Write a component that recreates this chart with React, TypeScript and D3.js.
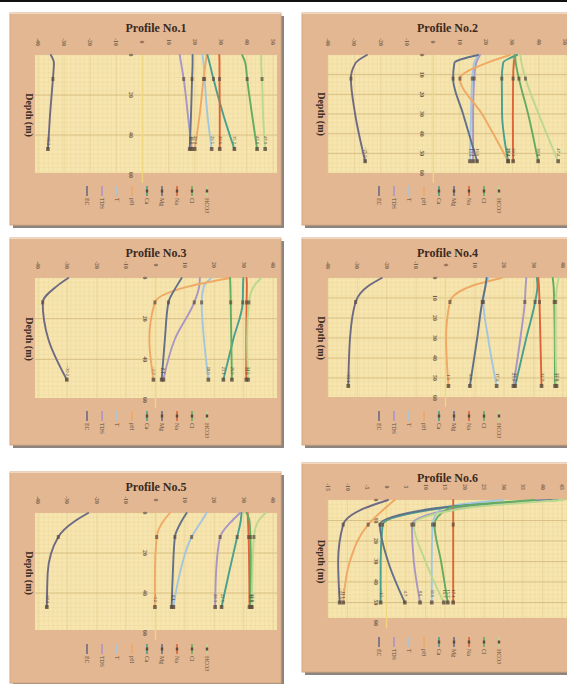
import React from "react";
import * as d3 from "d3";

const W = 567;
const H = 684;

// legend entries and colours (same for every profile)
const seriesNames = ["EC", "TDS", "T", "pH", "Ca", "Mg", "Na", "Cl", "HCO3"];
const seriesColors = ["#6e6a84", "#a996c4", "#a3c6df", "#f0a865", "#48a08e", "#62708a", "#de6438", "#62ad62", "#bad88f"];
const titles = ["Profile No.1", "Profile No.2", "Profile No.3", "Profile No.4", "Profile No.5", "Profile No.6"];

// top axis ticks
const ticksA = [-40, -30, -20, -10, 0, 10, 20, 30, 40, 50];
const ticksB = [-40, -30, -20, -10, 0, 10, 20, 30, 40];
const ticksC = [-15, -10, -5, 0, 5, 10, 15, 20, 25, 30, 35, 40, 45];

// depth ticks
const depthTicksA = [0, 20, 40, 60];
const depthTicksB = [0, 10, 20, 30, 40, 50, 60];

// sample depths (m)
const depths1 = [0, 4, 12, 30, 47];
const depths2 = [0, 4, 12, 30, 54];
const depths3 = [0, 4, 12, 30, 50];
const depths4 = [0, 4, 12, 30, 54];
const depths5 = [0, 4, 12, 30, 47];
const depths6 = [0, 4, 12, 30, 50];

// values per series (rows follow seriesNames)
const profile1 = [
  [-35.1, -33.9, -34.3, -35.4, -36.2],
  [14.3, 14.8, 15.8, 17.4, 18.9],
  [23.0, 23.4, 23.8, 24.9, 26.5],
  [24.6, 24.2, 23.4, 21.9, 20.0],
  [24.9, 25.7, 27.2, 31.0, 35.2],
  [19.2, 19.2, 19.0, 18.6, 18.1],
  [29.4, 29.5, 29.5, 29.6, 29.6],
  [38.2, 39.4, 40.1, 42.0, 43.9],
  [45.5, 45.5, 45.8, 46.2, 47.0],
];
const profile2 = [
  [-25.2, -29.5, -31.3, -29.7, -25.9],
  [17.7, 16.3, 15.5, 15.1, 15.1],
  [17.2, 15.5, 14.8, 14.3, 13.9],
  [29.1, 20.4, 10.1, 18.5, 28.4],
  [31.8, 26.5, 26.0, 26.1, 28.4],
  [17.0, 8.0, 7.5, 11.3, 16.6],
  [31.0, 30.6, 30.3, 30.2, 30.3],
  [31.0, 31.3, 32.5, 36.0, 39.8],
  [33.0, 33.5, 35.0, 40.0, 47.4],
];
const profile3 = [
  [-29.7, -33.6, -38.4, -36.5, -30.2],
  [15.1, 14.9, 13.2, 6.6, 2.7],
  [19.0, 16.5, 15.7, 16.5, 18.0],
  [25.4, 11.7, -0.2, -2.1, -0.7],
  [29.9, 29.8, 29.7, 26.5, 23.1],
  [8.9, 7.2, 4.4, 3.2, 2.1],
  [31.0, 31.1, 31.0, 30.9, 30.9],
  [25.4, 25.5, 25.6, 25.8, 26.0],
  [36.0, 33.5, 31.8, 31.2, 31.5],
];
const profile4 = [
  [-21.7, -26.3, -30.6, -32.5, -33.1],
  [27.5, 27.3, 27.0, 25.5, 23.1],
  [14.6, 13.6, 12.9, 14.5, 17.4],
  [19.1, 8.9, 1.5, 0.2, 1.0],
  [31.1, 31.3, 30.5, 27.5, 23.7],
  [14.0, 13.6, 12.5, 10.8, 8.3],
  [31.6, 31.8, 32.0, 32.3, 32.7],
  [36.5, 36.8, 37.0, 37.2, 37.3],
  [38.5, 38.0, 37.5, 37.5, 37.8],
];
const profile5 = [
  [-22.9, -27.4, -33.1, -36.7, -37.0],
  [28.8, 26.0, 22.0, 20.6, 20.3],
  [17.4, 15.7, 12.3, 8.3, 6.1],
  [4.9, 2.7, 0.4, -0.2, -0.2],
  [29.3, 29.0, 27.8, 25.0, 22.5],
  [10.6, 8.9, 6.6, 5.9, 5.5],
  [31.4, 31.5, 31.7, 31.9, 32.0],
  [31.0, 32.0, 32.3, 32.5, 32.5],
  [37.5, 35.0, 33.5, 33.0, 32.8],
];
const profile6 = [
  [0.4, -5.6, -11.1, -12.4, -12.0],
  [40.0, 18.0, 6.5, 7.0, 8.6],
  [30.0, 14.0, 11.8, 11.6, 11.6],
  [2.1, -0.4, -4.7, -9.4, -11.1],
  [44.0, 14.0, -1.0, -1.5, -1.5],
  [42.4, 12.5, -1.7, 0.4, 4.7],
  [17.1, 17.1, 17.1, 17.1, 17.1],
  [38.0, 16.0, 12.3, 14.0, 15.7],
  [45.5, 20.0, 7.0, 10.0, 14.7],
];

// panel placement on the page
const panels = [
  { frame: [10, 13, 271, 212], bg: [35, 277, 55, 173], xRange: [38, 273], yRange: [55, 175], ticks: ticksA, dTicks: depthTicksA, depths: depths1, values: profile1, legendY: 186 },
  { frame: [302, 13, 280, 212], bg: [328, 580, 55, 173], xRange: [328, 565], yRange: [55, 173], ticks: ticksA, dTicks: depthTicksB, depths: depths2, values: profile2, legendY: 186 },
  { frame: [10, 238, 271, 207], bg: [35, 277, 278, 398], xRange: [38, 273], yRange: [278, 400], ticks: ticksB, dTicks: depthTicksA, depths: depths3, values: profile3, legendY: 411 },
  { frame: [302, 238, 280, 207], bg: [328, 580, 278, 397], xRange: [328, 563], yRange: [278, 398], ticks: ticksB, dTicks: depthTicksB, depths: depths4, values: profile4, legendY: 411 },
  { frame: [10, 472, 271, 211], bg: [35, 277, 513, 630], xRange: [38, 273], yRange: [513, 633], ticks: ticksB, dTicks: depthTicksA, depths: depths5, values: profile5, legendY: 644 },
  { frame: [302, 463, 280, 209], bg: [328, 580, 500, 618], xRange: [328, 562], yRange: [500, 623], ticks: ticksC, dTicks: depthTicksB, depths: depths6, values: profile6, legendY: 637 },
];

const fmt = d3.format(".1f");

const Panel = ({ p, title }: { p: any; title: string }) => {
  const [fx, fy, fw, fh] = p.frame;
  const [bx0, bx1, by0, by1] = p.bg;
  const x = d3.scaleLinear().domain([p.ticks[0], p.ticks[p.ticks.length - 1]]).range(p.xRange);
  const y = d3.scaleLinear().domain([0, 60]).range(p.yRange);
  const x0 = x(0);
  const line = d3
    .line<number>()
    .x((v) => x(v))
    .y((_, i) => y(p.depths[i]))
    .curve(d3.curveMonotoneY);

  // parchment texture grid
  const gridX = d3.range(bx0, bx1, 4.5);
  const gridY = d3.range(by0, by1, 4.5);
  const plotCx = (bx0 + Math.min(bx1, W)) / 2;

  return (
    <g>
      <rect x={fx + 3} y={fy + 3} width={fw} height={fh} fill="#6f655c" opacity={0.8} />
      <rect x={fx} y={fy} width={fw} height={fh} fill="#e3b792" stroke="#d3a781" strokeWidth={1} />
      <line x1={fx} x2={fx + fw} y1={fy + 0.5} y2={fy + 0.5} stroke="#f3d8bf" />

      <rect x={bx0} y={by0} width={bx1 - bx0} height={by1 - by0} fill="#f6e5ae" />
      {gridX.map((gx: number, i: number) => (
        <line key={"gx" + i} x1={gx} x2={gx} y1={by0} y2={by1} stroke="#e6cf90" strokeWidth={0.5} opacity={0.45} />
      ))}
      {gridY.map((gy: number, i: number) => (
        <line key={"gy" + i} x1={bx0} x2={bx1} y1={gy} y2={gy} stroke="#e6cf90" strokeWidth={0.5} opacity={0.45} />
      ))}
      {p.ticks.map((t: number) => (
        <line key={"vt" + t} x1={x(t)} x2={x(t)} y1={by0} y2={by1} stroke="#e0c88c" strokeWidth={0.5} />
      ))}
      {p.dTicks
        .filter((d: number) => d > 0 && y(d) < by1 - 1)
        .map((d: number) => (
          <line key={"ht" + d} x1={bx0} x2={bx1} y1={y(d)} y2={y(d)} stroke="#cdb275" strokeWidth={0.7} />
        ))}
      <line x1={x0} x2={x0} y1={by0} y2={by1 + 10} stroke="#f0d77e" strokeWidth={1.3} />

      {p.ticks.map((t: number) => (
        <text
          key={"tl" + t}
          transform={`translate(${x(t)},${by0 - 13}) rotate(90)`}
          textAnchor="middle"
          dominantBaseline="central"
          fontSize={5.8}
          fontWeight="bold"
          fill="#7a644e"
          fontFamily="Liberation Serif, serif"
        >
          {t}
        </text>
      ))}

      {p.dTicks.map((d: number) => (
        <text
          key={"dl" + d}
          transform={`translate(${x0 - 11},${y(d)}) rotate(90)`}
          textAnchor="middle"
          dominantBaseline="central"
          fontSize={5.8}
          fontWeight="bold"
          fill="#6e5a46"
          fontFamily="Liberation Serif, serif"
        >
          {d}
        </text>
      ))}

      {p.values.map((vals: number[], s: number) => (
        <path key={"ln" + s} d={line(vals) || ""} fill="none" stroke={seriesColors[s]} strokeWidth={1.9} strokeLinecap="round" />
      ))}
      {p.values.map((vals: number[], s: number) => {
        const last = vals.length - 1;
        return (
          <g key={"mk" + s}>
            <rect x={x(vals[2]) - 1.5} y={y(p.depths[2]) - 2} width={3} height={4} fill="#5d4c3e" opacity={0.7} />
            <rect x={x(vals[last]) - 1.8} y={y(p.depths[last]) - 2} width={3.6} height={4} fill="#5d4c3e" opacity={0.8} />
            <text
              transform={`translate(${x(vals[last]) + 0.5},${y(p.depths[last]) - 9}) rotate(90)`}
              textAnchor="middle"
              dominantBaseline="central"
              fontSize={4.5}
              fill="#4d3e33"
              fontFamily="Liberation Serif, serif"
            >
              {fmt(vals[last])}
            </text>
          </g>
        );
      })}

      <text
        transform={`translate(${fx + 19},${(p.yRange[0] + p.yRange[1]) / 2}) rotate(90)`}
        textAnchor="middle"
        dominantBaseline="central"
        fontSize={10}
        fontWeight="bold"
        fill="#3d2d22"
        fontFamily="Liberation Serif, serif"
      >
        Depth (m)
      </text>

      <text
        x={plotCx}
        y={fy + 19}
        textAnchor="middle"
        fontSize={12}
        fontWeight="bold"
        fill="#3b2a1f"
        fontFamily="Liberation Serif, serif"
      >
        {title}
      </text>

      {seriesNames.map((name, i) => {
        const lx = fx + 77 + i * 15;
        return (
          <g key={"lg" + i}>
            <line x1={lx} x2={lx} y1={p.legendY} y2={p.legendY + 10} stroke={seriesColors[i]} strokeWidth={1.6} />
            {i >= 4 ? <rect x={lx - 1.2} y={p.legendY + 3.5} width={2.4} height={3} fill="#5d4c3e" /> : null}
            <text
              transform={`translate(${lx},${p.legendY + 12}) rotate(90)`}
              dominantBaseline="central"
              fontSize={5.8}
              fill="#5a4a3c"
              fontFamily="Liberation Serif, serif"
            >
              {name}
            </text>
          </g>
        );
      })}
    </g>
  );
};

export default function App() {
  return (
    <svg
      width={W}
      height={H}
      viewBox={`0 0 ${W} ${H}`}
      style={{ position: "absolute", left: 0, top: 0, background: "#ffffff" }}
    >
      <rect width={W} height={H} fill="#ffffff" />
      {panels.map((p, i) => (
        <Panel key={i} p={p} title={titles[i]} />
      ))}
      <rect x={0} y={0} width={W} height={2} fill="#111111" />
    </svg>
  );
}
